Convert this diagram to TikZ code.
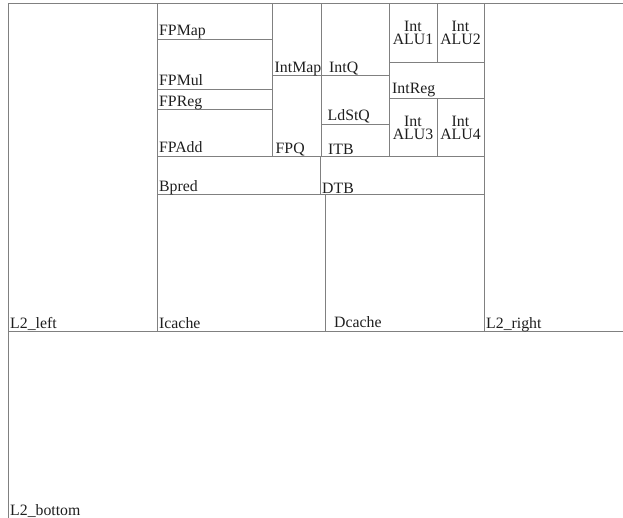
\documentclass[tikz,border=0pt]{standalone}
\usepackage{fontspec}
\setmainfont{Liberation Serif}
\definecolor{linegray}{RGB}{128,128,128}
\definecolor{textgray}{RGB}{30,30,30}
\tikzset{
  blk/.style={draw=linegray, line width=0.9pt},
  lbl/.style={anchor=base west, inner sep=0pt, text=textgray,
    font=\fontsize{15.8}{13}\selectfont},
  alu/.style={align=center, inner sep=0pt, text=textgray,
    font=\fontsize{15.8}{13}\selectfont}
}
\begin{document}
\begin{tikzpicture}[x=1pt,y=-1pt]
\useasboundingbox (0,0) rectangle (623,518);
\clip (0,0) rectangle (623,518);
% L2 cache round the core
\draw[blk] (8.5,3) rectangle (157,331);
\draw[blk] (484,3) rectangle (640,331);
\draw[blk] (8.5,331) rectangle (640,540);
% caches and branch unit
\draw[blk] (157,194) rectangle (325,331);
\draw[blk] (325,194) rectangle (484,331);
\draw[blk] (157,156) rectangle (320.5,194);
\draw[blk] (320.5,156) rectangle (484,194);
% floating point
\draw[blk] (157,3) rectangle (272,39);
\draw[blk] (157,39) rectangle (272,89);
\draw[blk] (157,89) rectangle (272,109);
\draw[blk] (157,109) rectangle (272,156);
\draw[blk] (272,3) rectangle (321,75);
\draw[blk] (272,75) rectangle (321,156);
% integer side
\draw[blk] (321,3) rectangle (389,75);
\draw[blk] (321,75) rectangle (389,124);
\draw[blk] (321,124) rectangle (389,156);
\draw[blk] (389,3) rectangle (437,62);
\draw[blk] (437,3) rectangle (484,62);
\draw[blk] (389,62) rectangle (484,98);
\draw[blk] (389,98) rectangle (437,156);
\draw[blk] (437,98) rectangle (484,156);
% labels
\node[lbl] (l2left) at (10,328) {L2\_left};
\node[lbl] (l2right) at (486,328) {L2\_right};
\node[lbl] (l2bottom) at (10,515) {L2\_bottom};
\node[lbl] (icache) at (159,328.5) {Icache};
\node[lbl] (dcache) at (334,327.5) {Dcache};
\node[lbl] (bpred) at (159,191.5) {Bpred};
\node[lbl] (dtb) at (322,193.5) {DTB};
\node[lbl] (fpmap) at (159,36) {FPMap};
\node[lbl] (fpmul) at (159,86) {FPMul};
\node[lbl] (fpreg) at (159,106.5) {FPReg};
\node[lbl] (fpadd) at (159,153) {FPAdd};
\node[lbl] (intmap) at (274.5,72.5) {IntMap};
\node[lbl] (fpq) at (275.5,153.5) {FPQ};
\node[lbl] (intq) at (329,73) {IntQ};
\node[lbl] (ldstq) at (327.5,120.5) {LdStQ};
\node[lbl] (itb) at (328,154.5) {ITB};
\node[lbl] (intreg) at (392,94) {IntReg};
\node[alu] (alu1) at (413,32.5) {Int\\ALU1};
\node[alu] (alu2) at (460.5,32.5) {Int\\ALU2};
\node[alu] (alu3) at (413,127.5) {Int\\ALU3};
\node[alu] (alu4) at (460.5,127.5) {Int\\ALU4};
\end{tikzpicture}
\end{document}
